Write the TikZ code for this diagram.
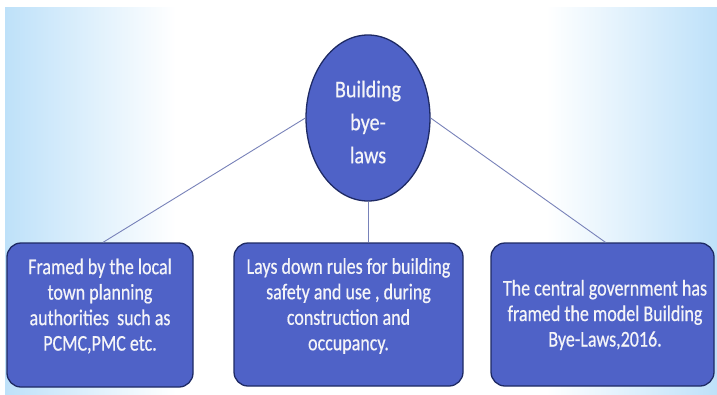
\documentclass[tikz,border=0pt]{standalone}
\usepackage{fontspec}
\setmainfont{Carlito}
\newfontfamily\hubfont{Carlito}[FakeStretch=0.84, FakeBold=0.5]
\newfontfamily\leaffont{Carlito}[FakeStretch=0.80, FakeBold=0.5]
\usetikzlibrary{shapes.geometric}

\definecolor{bgblue}{RGB}{190,225,249}
\definecolor{boxfill}{RGB}{79,98,199}
\definecolor{boxline}{RGB}{30,42,100}
\definecolor{linkcol}{RGB}{120,130,185}
\definecolor{textcol}{RGB}{244,244,248}

% horizontal backdrop: pale blue at both sides, white in the middle
\pgfdeclarehorizontalshading{backdrop}{100bp}{%
  color(0bp)=(bgblue); color(25bp)=(bgblue);
  color(37bp)=(white); color(63bp)=(white);
  color(75bp)=(bgblue); color(100bp)=(bgblue)}

\tikzset{
  hubshape/.style={ellipse, draw=boxline, line width=1.3pt, fill=boxfill,
    minimum width=124pt, minimum height=166pt, inner sep=0pt},
  leafbox/.style={rectangle, rounded corners=14pt, draw=boxline,
    line width=1.3pt, fill=boxfill, inner sep=0pt},
  hubtext/.style={text=textcol, align=center,
    font=\hubfont\fontsize{24}{33}\selectfont},
  leaftext/.style={text=textcol, align=center,
    font=\leaffont\fontsize{22.5}{25.5}\selectfont},
  link/.style={draw=linkcol, line width=0.9pt}
}

\begin{document}
\begin{tikzpicture}[x=1pt, y=-1pt]
  \useasboundingbox (0,0) rectangle (717,394);
  \fill[white] (0,0) rectangle (717,394);
  \shade[shading=backdrop] (5,7) rectangle (717,394);

  % central topic and three leaf boxes
  \node[hubshape] (hub) at (368,118) {};
  \node[leafbox, minimum width=186pt, minimum height=144pt] (lbox) at (100,315) {};
  \node[leafbox, minimum width=229pt, minimum height=143pt] (mbox) at (348.5,314.5) {};
  \node[leafbox, minimum width=223pt, minimum height=143pt] (rbox) at (602.5,314.5) {};

  % connectors from the hub to each box
  \coordinate (mtop) at (hub.south |- mbox.north);
  \draw[link] (hub.west) -- ([xshift=3pt]lbox.north);
  \draw[link] (hub.east) -- ([xshift=3pt]rbox.north);
  \draw[link] (hub.south) -- (mtop);

  % texts
  \node[hubtext] (hublabel) at (368,122) {Building\\bye-\\laws};
  \node[leaftext] (llabel) at (100,306)
    {Framed by the local\\town planning\\authorities\ \ such as\\PCMC,PMC etc.};
  \node[leaftext] (mlabel) at (348.5,306)
    {Lays down rules for building\\safety and use , during\\construction and\\occupancy.};
  \node[leaftext] (rlabel) at (605,315)
    {The central government has\\framed the model Building\\Bye-Laws,2016.};
\end{tikzpicture}
\end{document}
